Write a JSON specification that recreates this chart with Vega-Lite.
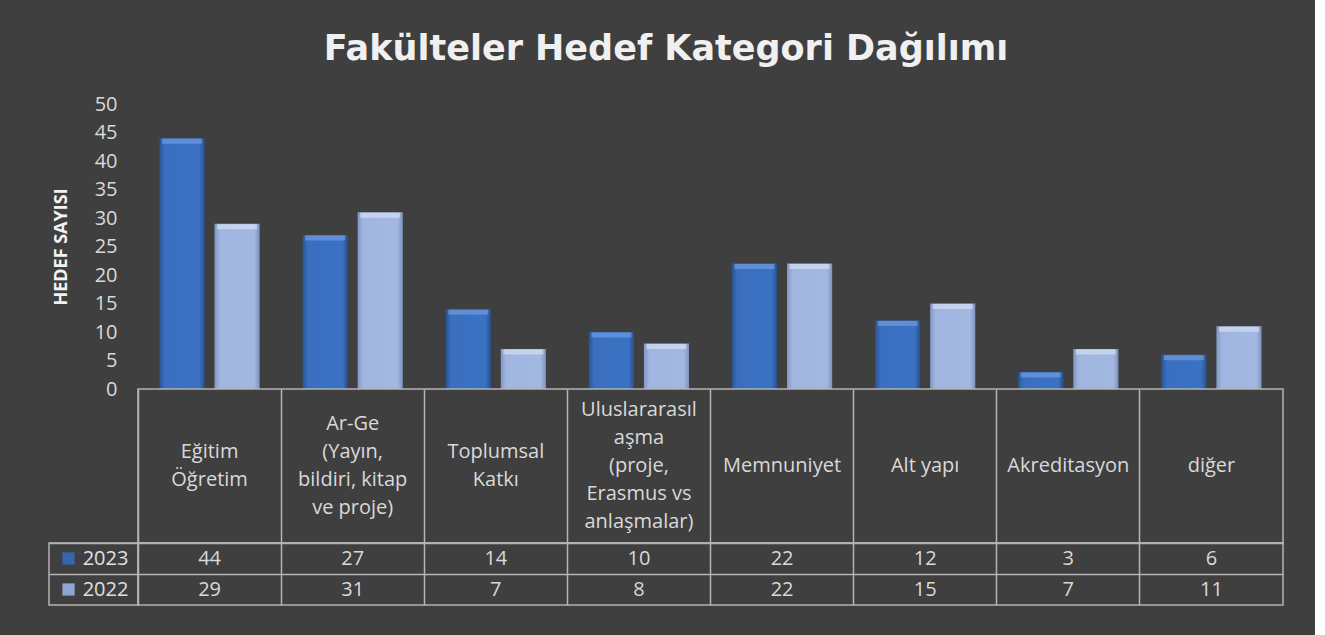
{
  "$schema": "https://vega.github.io/schema/vega-lite/v6.json",
  "background": "#3f3f3f",
  "padding": {"left": 48, "right": 31, "top": 32, "bottom": 32},
  "autosize": {"type": "pad"},
  "title": {"text": "Fakülteler Hedef Kategori Dağılımı", "font": "DejaVu Sans", "fontSize": 35, "fontWeight": "bold", "color": "#f0f0f0", "anchor": "middle", "offset": 27},
  "config": {
    "font": "Open Sans",
    "view": {"stroke": "#b4b4b4", "strokeWidth": 1.5}
  },
  "datasets": {
    "bars": [
      {"cat": "Eğitim Öğretim", "year": "2023", "value": 44},
      {"cat": "Eğitim Öğretim", "year": "2022", "value": 29},
      {"cat": "Ar-Ge", "year": "2023", "value": 27},
      {"cat": "Ar-Ge", "year": "2022", "value": 31},
      {"cat": "Toplumsal Katkı", "year": "2023", "value": 14},
      {"cat": "Toplumsal Katkı", "year": "2022", "value": 7},
      {"cat": "Uluslararasılaşma", "year": "2023", "value": 10},
      {"cat": "Uluslararasılaşma", "year": "2022", "value": 8},
      {"cat": "Memnuniyet", "year": "2023", "value": 22},
      {"cat": "Memnuniyet", "year": "2022", "value": 22},
      {"cat": "Alt yapı", "year": "2023", "value": 12},
      {"cat": "Alt yapı", "year": "2022", "value": 15},
      {"cat": "Akreditasyon", "year": "2023", "value": 3},
      {"cat": "Akreditasyon", "year": "2022", "value": 7},
      {"cat": "diğer", "year": "2023", "value": 6},
      {"cat": "diğer", "year": "2022", "value": 11}
    ],
    "cats": [
      {"cat": "Eğitim Öğretim", "label": "Eğitim\nÖğretim"},
      {"cat": "Ar-Ge", "label": "Ar-Ge\n(Yayın,\nbildiri, kitap\nve proje)"},
      {"cat": "Toplumsal Katkı", "label": "Toplumsal\nKatkı"},
      {"cat": "Uluslararasılaşma", "label": "Uluslararasıl\naşma\n(proje,\nErasmus vs\nanlaşmalar)"},
      {"cat": "Memnuniyet", "label": "Memnuniyet"},
      {"cat": "Alt yapı", "label": "Alt yapı"},
      {"cat": "Akreditasyon", "label": "Akreditasyon"},
      {"cat": "diğer", "label": "diğer"}
    ],
    "years": [{"year": "2023"}, {"year": "2022"}]
  },
  "spacing": 0,
  "bounds": "flush",
  "columns": 2,
  "concat": [
    {
      "data": {"values": []},
      "width": 89,
      "height": 285,
      "view": {"stroke": null},
      "mark": "text",
      "encoding": {}
    },
    {
      "data": {"name": "bars"},
      "width": 1145,
      "height": 285,
      "view": {"stroke": null},
      "encoding": {
        "x": {"field": "cat", "type": "nominal", "sort": null, "scale": {"paddingInner": 0.3, "paddingOuter": 0.15}, "axis": null},
        "xOffset": {"field": "year", "type": "nominal", "scale": {"domain": ["2023", "2022"], "paddingInner": 0.18, "paddingOuter": 0}},
        "y": {"field": "value", "type": "quantitative", "scale": {"domain": [0, 50]},
          "axis": {"values": [0, 5, 10, 15, 20, 25, 30, 35, 40, 45, 50], "grid": false, "ticks": false, "domain": false,
            "labelFontSize": 20, "labelColor": "#d9d9d9", "labelPadding": 21,
            "title": "HEDEF SAYISI", "titleFontSize": 18, "titleFontWeight": "bold", "titleColor": "#f2f2f2", "titlePadding": 24}}
      },
      "layer": [
        {
          "transform": [{"filter": "datum.year == '2023'"}],
          "mark": {"type": "bar", "fill": {"gradient": "linear", "x1": 0, "y1": 0, "x2": 1, "y2": 0,
            "stops": [{"offset": 0, "color": "#2a5495"}, {"offset": 0.12, "color": "#3a6fbf"}, {"offset": 0.88, "color": "#3b71c2"}, {"offset": 1, "color": "#28508f"}]}}
        },
        {
          "transform": [{"filter": "datum.year == '2022'"}],
          "mark": {"type": "bar", "fill": {"gradient": "linear", "x1": 0, "y1": 0, "x2": 1, "y2": 0,
            "stops": [{"offset": 0, "color": "#8297c4"}, {"offset": 0.12, "color": "#a0b5df"}, {"offset": 0.88, "color": "#a3b8e1"}, {"offset": 1, "color": "#7d92bf"}]}}
        },
        {
          "transform": [{"filter": "datum.year == '2023'"}],
          "mark": {"type": "tick", "thickness": 5, "size": 40, "yOffset": 3, "color": "#6f9be0"}
        },
        {
          "transform": [{"filter": "datum.year == '2022'"}],
          "mark": {"type": "tick", "thickness": 5, "size": 40, "yOffset": 3, "color": "#d3def3"}
        }
      ]
    },
    {
      "data": {"values": []},
      "width": 89,
      "height": 154,
      "view": {"stroke": null},
      "mark": "text",
      "encoding": {}
    },
    {
      "data": {"name": "cats"},
      "width": 1145,
      "height": 154,
      "mark": {"type": "text", "fontSize": 20, "lineHeight": 28, "lineBreak": "\n", "color": "#d9d9d9",
        "dy": {"expr": "-(length(split(datum.label, '\\n')) - 1) * 14"}},
      "encoding": {
        "x": {"field": "cat", "type": "nominal", "sort": null, "scale": {"type": "band", "paddingInner": 0, "paddingOuter": 0},
          "axis": {"bandPosition": 0, "grid": true, "gridColor": "#b4b4b4", "gridWidth": 1.5, "labels": false, "ticks": false, "domain": false, "title": null}},
        "text": {"field": "label"}
      }
    },
    {
      "data": {"name": "years"},
      "width": 89,
      "height": 62,
      "encoding": {
        "y": {"field": "year", "type": "nominal", "sort": ["2023", "2022"], "scale": {"type": "band", "paddingInner": 0, "paddingOuter": 0},
          "axis": {"bandPosition": 0, "grid": true, "gridColor": "#b4b4b4", "gridWidth": 1.5, "labels": false, "ticks": false, "domain": false, "title": null}}
      },
      "layer": [
        {
          "mark": {"type": "point", "shape": "square", "filled": true, "size": 150, "xOffset": -25, "opacity": 1},
          "encoding": {"color": {"field": "year", "type": "nominal", "scale": {"domain": ["2023", "2022"], "range": ["#3565ad", "#8ea5d2"]}, "legend": null}}
        },
        {
          "mark": {"type": "text", "fontSize": 20, "color": "#e0e0e0", "dx": 12},
          "encoding": {"text": {"field": "year"}}
        }
      ]
    },
    {
      "data": {"name": "bars"},
      "width": 1145,
      "height": 62,
      "mark": {"type": "text", "fontSize": 20, "color": "#d9d9d9"},
      "encoding": {
        "x": {"field": "cat", "type": "nominal", "sort": null, "scale": {"type": "band", "paddingInner": 0, "paddingOuter": 0},
          "axis": {"bandPosition": 0, "grid": true, "gridColor": "#b4b4b4", "gridWidth": 1.5, "labels": false, "ticks": false, "domain": false, "title": null}},
        "y": {"field": "year", "type": "nominal", "sort": ["2023", "2022"], "scale": {"type": "band", "paddingInner": 0, "paddingOuter": 0},
          "axis": {"bandPosition": 0, "grid": true, "gridColor": "#b4b4b4", "gridWidth": 1.5, "labels": false, "ticks": false, "domain": false, "title": null}},
        "text": {"field": "value", "type": "quantitative"}
      }
    }
  ]
}
